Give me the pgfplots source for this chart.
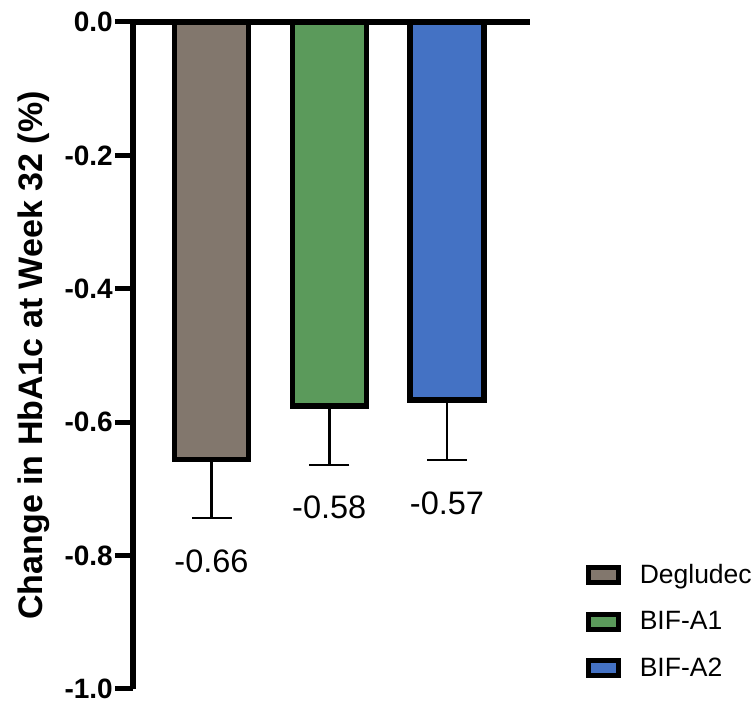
\documentclass[border=0pt]{standalone}
\usepackage{pgfplots}
\pgfplotsset{compat=1.18}
\usepackage{fontspec}
\setmainfont{Liberation Sans}
\definecolor{cDeg}{RGB}{130,119,109}
\definecolor{cA1}{RGB}{91,154,91}
\definecolor{cA2}{RGB}{68,114,196}
\begin{document}
\begin{tikzpicture}
\begin{axis}[
  name=ax, at={(0,0)}, anchor=south west,
  scale only axis, width=397pt, height=667pt,
  xmin=-0.667, xmax=2.705, ymin=-1, ymax=0,
  axis x line*=top, axis y line*=left,
  axis line style={line width=6pt, black},
  xtick=\empty,
  ytick={-1,-0.8,-0.6,-0.4,-0.2,0},
  yticklabels={-1.0,-0.8,-0.6,-0.4,-0.2,0.0},
  tick align=outside, major tick length=18pt,
  tick style={line width=5pt, black},
  yticklabel style={font=\fontsize{28}{30}\selectfont\bfseries, inner sep=2pt},
  ylabel={Change in HbA1c at Week 32 (\%)},
  ylabel style={font=\fontsize{34}{36}\selectfont\bfseries, at={(axis description cs:-0.229,0.5)}, anchor=base},
  clip=false,
  legend style={at={(axis description cs:1.14,0.19)}, anchor=north west, draw=none, fill=none,
    inner sep=0pt, font=\fontsize{26.5}{28}\selectfont, row sep=22.5pt,
    /tikz/every odd column/.append style={column sep=17pt}},
  legend cell align=left,
  legend image code/.code={\draw[#1, line width=5pt] (0pt,-7.5pt) rectangle (30pt,7.5pt);},
]
\addplot[ybar, bar width=74pt, bar shift=0pt, draw=black, line width=5.5pt, fill=cDeg,
  error bars/.cd, y dir=minus, y explicit,
  error bar style={line width=2.5pt, black},
  error mark options={rotate=90, mark size=20pt, line width=2.5pt, black}]
  coordinates {(0,-0.656) -= (0,0.088)};
\addlegendentry{Degludec}
\addplot[ybar, bar width=74pt, bar shift=0pt, draw=black, line width=5.5pt, fill=cA1,
  error bars/.cd, y dir=minus, y explicit,
  error bar style={line width=2.5pt, black},
  error mark options={rotate=90, mark size=20pt, line width=2.5pt, black}]
  coordinates {(1,-0.576) -= (0,0.088)};
\addlegendentry{BIF-A1}
\addplot[ybar, bar width=74pt, bar shift=0pt, draw=black, line width=5.5pt, fill=cA2,
  error bars/.cd, y dir=minus, y explicit,
  error bar style={line width=2.5pt, black},
  error mark options={rotate=90, mark size=20pt, line width=2.5pt, black}]
  coordinates {(2,-0.567) -= (0,0.090)};
\addlegendentry{BIF-A2}
\node[font=\fontsize{32.5}{34}\selectfont, anchor=north, inner sep=0pt, yshift=-31pt] at (axis cs:0,-0.744) {-0.66};
\node[font=\fontsize{32.5}{34}\selectfont, anchor=north, inner sep=0pt, yshift=-31pt] at (axis cs:1,-0.664) {-0.58};
\node[font=\fontsize{32.5}{34}\selectfont, anchor=north, inner sep=0pt, yshift=-31pt] at (axis cs:2,-0.657) {-0.57};
\end{axis}
\pgfresetboundingbox
\path ([shift={(-133pt,-15pt)}]ax.south west) rectangle ([shift={(623pt,689pt)}]ax.south west);
\end{tikzpicture}
\end{document}
